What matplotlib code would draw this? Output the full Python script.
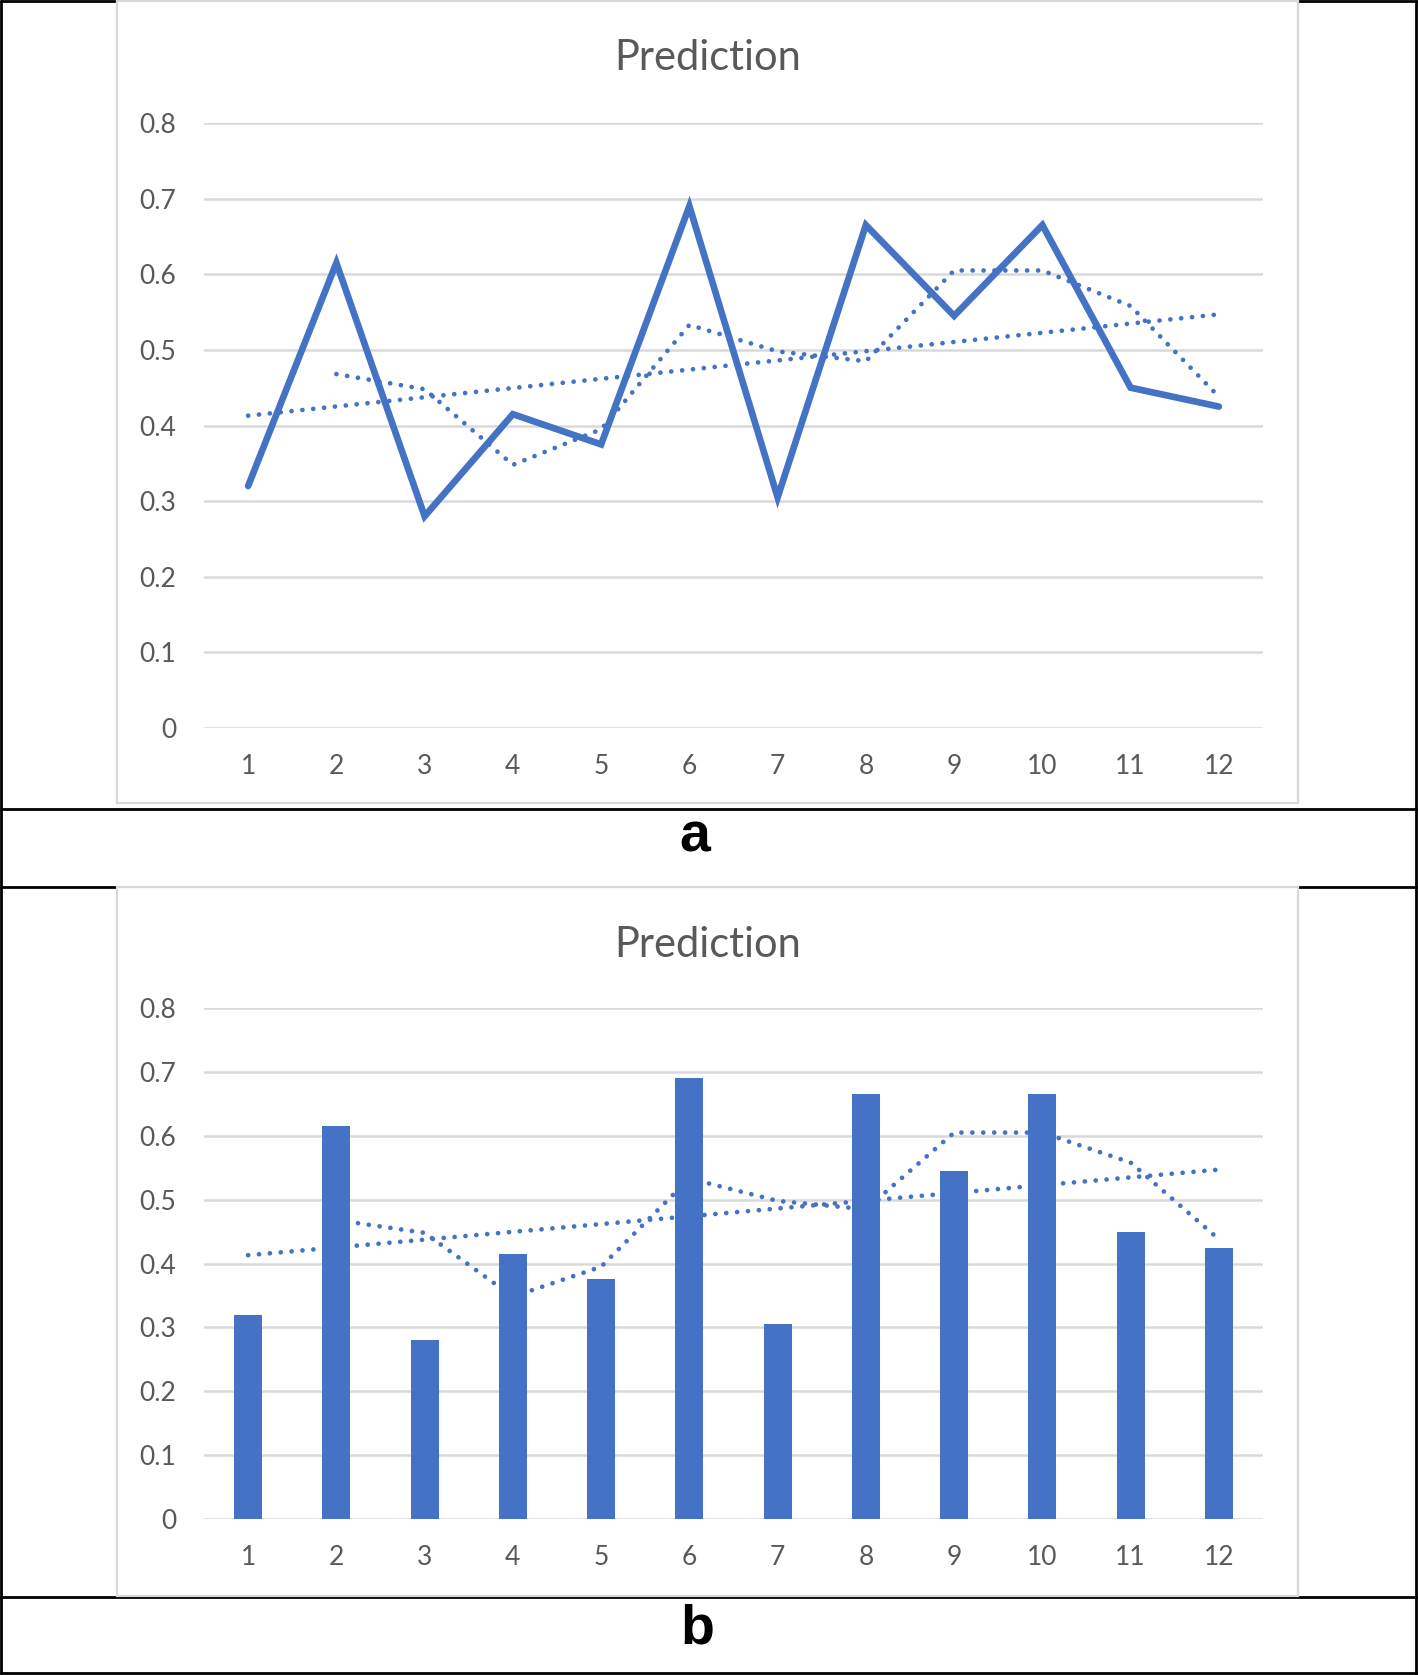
import numpy as np
import matplotlib
matplotlib.use("Agg")
import matplotlib.pyplot as plt
from matplotlib.lines import Line2D
from matplotlib.patches import Rectangle

plt.rcParams["font.family"] = ["Lato", "DejaVu Sans"]

# data
periods = [1, 2, 3, 4, 5, 6, 7, 8, 9, 10, 11, 12]
prediction = [0.32, 0.615, 0.28, 0.415, 0.375, 0.69, 0.305, 0.665, 0.545, 0.665, 0.45, 0.425]
# 2-period moving average trendline (starts at period 2)
ma_periods = [2, 3, 4, 5, 6, 7, 8, 9, 10, 11, 12]
ma_values = [0.468, 0.448, 0.348, 0.395, 0.533, 0.498, 0.485, 0.605, 0.605, 0.558, 0.438]
# linear trendline end points
trend_periods = [1, 12]
trend_values = [0.413, 0.547]
yticks = [0, 0.1, 0.2, 0.3, 0.4, 0.5, 0.6, 0.7, 0.8]

BLUE = "#4472C4"
GRID = "#D9D9D9"
TXT = "#595959"
W, H = 1418, 1675

fig = plt.figure(figsize=(W / 100, H / 100), dpi=100)


def px_line(x0, y0, x1, y1, color="black", lw=2.0, z=1):
    fig.add_artist(Line2D([x0 / W, x1 / W], [1 - y0 / H, 1 - y1 / H],
                          color=color, lw=lw, zorder=z, solid_capstyle="butt"))


def px_box(x0, y0, x1, y1):
    fig.add_artist(Rectangle((x0 / W, 1 - y1 / H), (x1 - x0) / W, (y1 - y0) / H,
                             facecolor="white", edgecolor=GRID, lw=1.6, zorder=2))


# outer black frame and separators
px_line(1, 0, 1, H)
px_line(W - 2, 0, W - 2, H)
px_line(0, 1, W, 1)
px_line(0, 809, W, 809)
px_line(0, 887, W, 887)
px_line(0, 1597, W, 1597)
px_line(0, H - 2, W, H - 2)

# chart boxes
px_box(117, 1, 1298, 803)
px_box(117, 887, 1298, 1596)


def style_axes(ax):
    ax.set_xlim(0.5, 12.5)
    ax.set_ylim(0, 0.8)
    ax.set_yticks(yticks)
    ax.set_yticklabels(["0" if v == 0 else f"{v:.1f}" for v in yticks])
    ax.set_xticks(periods)
    ax.grid(axis="y", color=GRID, lw=1.8, zorder=0)
    ax.set_axisbelow(True)
    for s in ax.spines.values():
        s.set_visible(False)
    ax.tick_params(axis="both", length=0, labelsize=19, colors=TXT)
    ax.tick_params(axis="y", pad=20)
    ax.tick_params(axis="x", pad=19)
    ax.set_facecolor("none")


dot_style = dict(color=BLUE, lw=3.4, linestyle=(0, (0.01, 2.3)),
                 dash_capstyle="round", zorder=2)

# panel a
ax1 = fig.add_axes([204 / W, 1 - 728 / H, 1059 / W, 605 / H], zorder=3)
style_axes(ax1)
ax1.plot(trend_periods, trend_values, **dot_style)
ax1.plot(ma_periods, ma_values, **dot_style)
ax1.plot(periods, prediction, color=BLUE, lw=4.8, solid_joinstyle="miter",
         solid_capstyle="round", zorder=3)
fig.text(708 / W, 1 - 58 / H, "Prediction", ha="center", va="center",
         fontsize=30, color=TXT, zorder=4)

# panel b
ax2 = fig.add_axes([204 / W, 1 - 1519 / H, 1059 / W, 511 / H], zorder=3)
style_axes(ax2)
ax2.plot(trend_periods, trend_values, **dot_style)
ax2.plot(ma_periods, ma_values, **dot_style)
ax2.bar(periods, prediction, width=0.32, color=BLUE, zorder=3)
fig.text(708 / W, 1 - 945 / H, "Prediction", ha="center", va="center",
         fontsize=30, color=TXT, zorder=4)

# panel captions
fig.text(695 / W, 1 - 838 / H, "a", ha="center", va="center", fontsize=40,
         fontweight="bold", family="Liberation Sans", color="black")
fig.text(697 / W, 1 - 1630 / H, "b", ha="center", va="center", fontsize=40,
         fontweight="bold", family="Liberation Sans", color="black")

fig.savefig("out.png", dpi=100, facecolor="white")
